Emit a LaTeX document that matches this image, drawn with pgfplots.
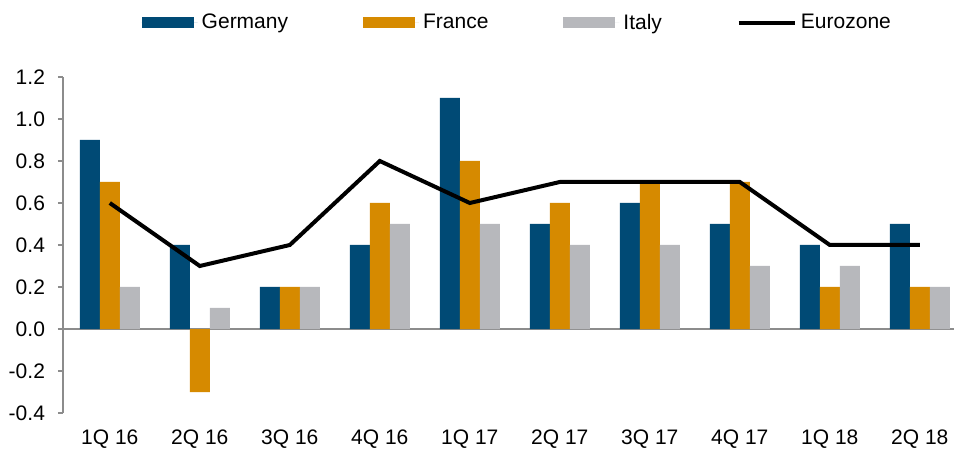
\documentclass[border=0pt]{standalone}
\usepackage{pgfplots}
\pgfplotsset{compat=1.18}
\usepackage{fontspec}
\setmainfont{Liberation Sans}
\definecolor{cde}{HTML}{004A75}
\definecolor{cfr}{HTML}{D68A00}
\definecolor{cit}{HTML}{B7B8BC}
\definecolor{axg}{HTML}{8C8C8C}
\begin{document}
\begin{tikzpicture}
\begin{axis}[
  scale only axis,
  width=445.5pt, height=168pt,
  xmin=-0.52, xmax=9.38,
  ymin=-0.4, ymax=1.2,
  ytick={-0.4,-0.2,0,0.2,0.4,0.6,0.8,1.0,1.2},
  xtick={0,...,9},
  xticklabels={1Q 16,2Q 16,3Q 16,4Q 16,1Q 17,2Q 17,3Q 17,4Q 17,1Q 18,2Q 18},
  axis lines*=left,
  x axis line style={draw=none},
  y axis line style={draw=axg, line width=0.6pt},
  tick align=outside,
  x tick style={draw=none},
  y tick style={draw=axg, line width=0.6pt},
  major tick length=2.5pt,
  /pgf/number format/assume math mode=true,
  yticklabel style={/pgf/number format/fixed, /pgf/number format/fixed zerofill, /pgf/number format/precision=1, font=\fontsize{10.5}{12}\selectfont, xshift=-3pt},
  xticklabel style={font=\fontsize{10.5}{12}\selectfont, yshift=-2.5pt},
  extra y ticks={0},
  extra y tick labels={},
  extra y tick style={grid=major, major grid style={draw=axg, line width=0.6pt}},
  bar width=0.222,
  legend columns=4,
  legend style={draw=none, at={(0.511,1.161)}, anchor=center,
    font=\fontsize{10.5}{12}\selectfont,
    /tikz/every even column/.append style={column sep=35.5pt}},
]
\addplot[ybar, bar shift=-0.222, fill=cde, draw=none,
  legend image code/.code={\fill[cde] (0pt,-2.7pt) rectangle (26pt,2.7pt); \path (0pt,0pt) -- (28pt,0pt);}]
  coordinates {(0,0.9) (1,0.4) (2,0.2) (3,0.4) (4,1.1) (5,0.5) (6,0.6) (7,0.5) (8,0.4) (9,0.5)};
\addlegendentry{Germany}
\addplot[ybar, bar shift=0, fill=cfr, draw=none,
  legend image code/.code={\fill[cfr] (0pt,-2.7pt) rectangle (26pt,2.7pt); \path (0pt,0pt) -- (28pt,0pt);}]
  coordinates {(0,0.7) (1,-0.3) (2,0.2) (3,0.6) (4,0.8) (5,0.6) (6,0.7) (7,0.7) (8,0.2) (9,0.2)};
\addlegendentry{France}
\addplot[ybar, bar shift=0.222, fill=cit, draw=none,
  legend image code/.code={\fill[cit] (0pt,-2.7pt) rectangle (26pt,2.7pt); \path (0pt,0pt) -- (28pt,0pt);}]
  coordinates {(0,0.2) (1,0.1) (2,0.2) (3,0.5) (4,0.5) (5,0.4) (6,0.4) (7,0.3) (8,0.3) (9,0.2)};
\addlegendentry{Italy}
\addplot[black, line width=2pt, mark=none, sharp plot,
  legend image code/.code={\draw[black, line width=2pt] (0pt,0pt) -- (26pt,0pt); \path (0pt,0pt) -- (28pt,0pt);}]
  coordinates {(0,0.6) (1,0.3) (2,0.4) (3,0.8) (4,0.6) (5,0.7) (6,0.7) (7,0.7) (8,0.4) (9,0.4)};
\addlegendentry{Eurozone}
\coordinate (ll) at (rel axis cs:0,0);
\coordinate (ur) at (rel axis cs:1,1);
\end{axis}
\pgfresetboundingbox
\path ([xshift=-31.5pt,yshift=-17.5pt]ll) rectangle ([yshift=38.5pt]ur);
\end{tikzpicture}
\end{document}
